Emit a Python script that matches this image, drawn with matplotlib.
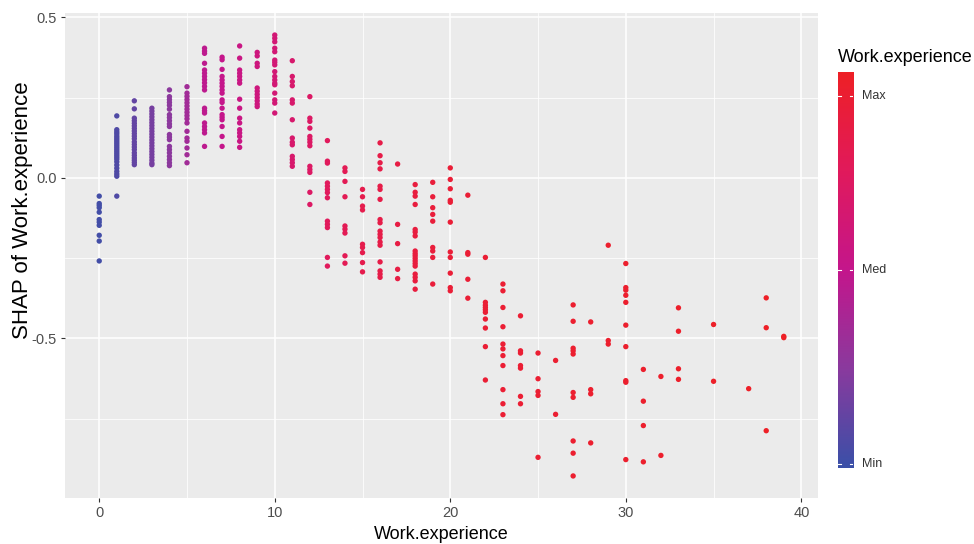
import numpy as np
import matplotlib
matplotlib.use("Agg")
import matplotlib.pyplot as plt
from matplotlib.colors import LinearSegmentedColormap

plt.rcParams['font.family'] = ['Liberation Sans', 'DejaVu Sans']

# ---- data: SHAP values per work-experience level ----
exp_levels = [0, 1, 2, 3, 4, 5, 6, 7, 8, 9, 10, 11, 12, 13, 14, 15, 16, 17, 18, 19,
              20, 21, 22, 23, 24, 25, 26, 27, 28, 29, 30, 31, 32, 33, 35, 37, 38, 39]

shap_00 = [-0.057, -0.080, -0.086, -0.093, -0.107, -0.130, -0.138, -0.148, -0.179, -0.197, -0.259]
shap_01 = [0.193, 0.150, 0.143, 0.137, 0.130, 0.124, 0.118, 0.112, 0.106, 0.100, 0.094, 0.088,
           0.082, 0.076, 0.070, 0.064, 0.058, 0.050, 0.040, 0.030, 0.020, 0.012, 0.005, -0.057]
shap_02 = [0.240, 0.215, 0.186, 0.178, 0.170, 0.162, 0.154, 0.146, 0.138, 0.130, 0.122, 0.112,
           0.104, 0.096, 0.088, 0.078, 0.070, 0.062, 0.055, 0.048, 0.041]
shap_03 = [0.217, 0.208, 0.199, 0.190, 0.181, 0.172, 0.163, 0.154, 0.145, 0.136, 0.127, 0.118,
           0.109, 0.100, 0.091, 0.082, 0.073, 0.064, 0.055, 0.046, 0.041]
shap_04 = [0.274, 0.253, 0.244, 0.235, 0.226, 0.214, 0.197, 0.188, 0.178, 0.168, 0.160, 0.135,
           0.127, 0.119, 0.098, 0.088, 0.078, 0.067, 0.057, 0.047, 0.038]
shap_05 = [0.284, 0.264, 0.254, 0.244, 0.234, 0.224, 0.214, 0.204, 0.194, 0.184, 0.171, 0.145,
           0.124, 0.114, 0.093, 0.072, 0.047]
shap_06 = [0.404, 0.395, 0.388, 0.357, 0.336, 0.326, 0.316, 0.306, 0.296, 0.285, 0.274, 0.217,
           0.209, 0.202, 0.171, 0.160, 0.150, 0.140, 0.098]
shap_07 = [0.376, 0.368, 0.338, 0.316, 0.305, 0.295, 0.285, 0.274, 0.264, 0.243, 0.235, 0.217,
           0.197, 0.189, 0.181, 0.160, 0.129, 0.098]
shap_08 = [0.411, 0.373, 0.336, 0.326, 0.316, 0.305, 0.295, 0.245, 0.217, 0.186, 0.171, 0.150,
           0.140, 0.129, 0.114, 0.095]
shap_09 = [0.391, 0.380, 0.357, 0.347, 0.280, 0.270, 0.260, 0.250, 0.240, 0.230, 0.222]
shap_10 = [0.445, 0.435, 0.424, 0.404, 0.393, 0.367, 0.360, 0.352, 0.331, 0.316, 0.305, 0.295,
           0.290, 0.264, 0.243, 0.233, 0.202]
shap_11 = [0.365, 0.316, 0.300, 0.287, 0.243, 0.233, 0.181, 0.124, 0.111, 0.103, 0.067, 0.057,
           0.047, 0.036]
shap_12 = [0.253, 0.186, 0.176, 0.155, 0.129, 0.120, 0.111, 0.100, 0.036, 0.026, 0.017, -0.045, -0.083]
shap_13 = [0.116, 0.052, 0.046, -0.016, -0.026, -0.036, -0.046, -0.062, -0.135, -0.145, -0.155,
           -0.248, -0.275]
shap_14 = [0.031, 0.020, -0.011, -0.059, -0.150, -0.160, -0.172, -0.243, -0.266]
shap_15 = [-0.036, -0.059, -0.088, -0.100, -0.207, -0.217, -0.233, -0.264, -0.293]
shap_16 = [0.109, 0.069, 0.047, 0.028, -0.026, -0.036, -0.067, -0.130, -0.140, -0.166, -0.176,
           -0.186, -0.200, -0.210, -0.262, -0.290, -0.300, -0.310]
shap_17 = [0.043, -0.145, -0.205, -0.285, -0.314]
shap_18 = [-0.021, -0.045, -0.057, -0.083, -0.161, -0.169, -0.181, -0.228, -0.236, -0.243,
           -0.251, -0.259, -0.267, -0.275, -0.300, -0.310, -0.321, -0.347]
shap_19 = [-0.014, -0.059, -0.093, -0.114, -0.135, -0.217, -0.228, -0.248, -0.331]
shap_20 = [0.031, -0.005, -0.034, -0.070, -0.076, -0.138, -0.231, -0.248, -0.297, -0.342, -0.352]
shap_21 = [-0.054, -0.233, -0.238, -0.316, -0.375]
shap_22 = [-0.248, -0.388, -0.397, -0.404, -0.411, -0.419, -0.440, -0.468, -0.526, -0.630]
shap_23 = [-0.331, -0.352, -0.404, -0.464, -0.518, -0.533, -0.554, -0.585, -0.660, -0.704, -0.738]
shap_24 = [-0.430, -0.539, -0.546, -0.585, -0.593, -0.681, -0.704]
shap_25 = [-0.546, -0.626, -0.666, -0.678, -0.871]
shap_26 = [-0.569, -0.737]
shap_27 = [-0.396, -0.447, -0.531, -0.539, -0.549, -0.669, -0.684, -0.820, -0.858, -0.929]
shap_28 = [-0.449, -0.660, -0.673, -0.826]
shap_29 = [-0.210, -0.507, -0.518]
shap_30 = [-0.267, -0.342, -0.350, -0.366, -0.388, -0.459, -0.526, -0.632, -0.637, -0.878]
shap_31 = [-0.597, -0.696, -0.772, -0.885]
shap_32 = [-0.619, -0.865]
shap_33 = [-0.405, -0.478, -0.595, -0.628]
shap_35 = [-0.457, -0.634]
shap_37 = [-0.657]
shap_38 = [-0.374, -0.467, -0.788]
shap_39 = [-0.494, -0.498]

shap_groups = [shap_00, shap_01, shap_02, shap_03, shap_04, shap_05, shap_06, shap_07, shap_08,
               shap_09, shap_10, shap_11, shap_12, shap_13, shap_14, shap_15, shap_16, shap_17,
               shap_18, shap_19, shap_20, shap_21, shap_22, shap_23, shap_24, shap_25, shap_26,
               shap_27, shap_28, shap_29, shap_30, shap_31, shap_32, shap_33, shap_35, shap_37,
               shap_38, shap_39]

legend_labels = ["Min", "Med", "Max"]
x_ticks = [0, 10, 20, 30, 40]
y_ticks = [-0.5, 0.0, 0.5]

# ---- assemble ----
xs = np.concatenate([[lvl] * len(g) for lvl, g in zip(exp_levels, shap_groups)]).astype(float)
ys = np.concatenate(shap_groups)

# colour scale (blue -> magenta -> red)
cmap = LinearSegmentedColormap.from_list(
    "wexp", [(0.0, "#3A50A8"), (0.25, "#8A3A9E"), (0.5, "#C4168C"),
             (0.75, "#E11A5C"), (1.0, "#EE2026")])
# position of each experience value on the colour bar
col_anchor_x = [0, 1, 2, 3, 4, 5, 6, 8, 10, 12, 15, 20, 39]
col_anchor_f = [0.03, 0.07, 0.13, 0.19, 0.26, 0.35, 0.47, 0.54, 0.62, 0.71, 0.82, 0.92, 1.0]
colors = cmap(np.interp(xs, col_anchor_x, col_anchor_f))

W, H = 974, 544
fig = plt.figure(figsize=(W / 100, H / 100), dpi=100)
ax = fig.add_axes([65 / W, (H - 498) / H, (818 - 65) / W, (498 - 13) / H])
ax.set_facecolor("#EBEBEB")

ax.scatter(xs, ys, s=15, c=colors, edgecolors="none", zorder=3)
ax.margins(x=0.05, y=0.05)

ax.set_xticks(x_ticks)
ax.set_xticks([5, 15, 25, 35], minor=True)
ax.set_yticks(y_ticks)
ax.set_yticklabels(["-0.5", "0.0", "0.5"])
ax.set_yticks([-0.75, -0.25, 0.25], minor=True)
ax.grid(which="major", color="white", linewidth=1.1, zorder=0)
ax.grid(which="minor", color="white", linewidth=0.55, zorder=0)
ax.set_axisbelow(True)
for sp in ax.spines.values():
    sp.set_visible(False)
ax.tick_params(which="major", length=3, width=0.8, color="#333333",
               labelsize=10.5, labelcolor="#4D4D4D", pad=3)
ax.tick_params(which="minor", length=0)

ax.set_xlabel("Work.experience", fontsize=13, color="black", labelpad=4)
fig.text(23 / W, (H - 210) / H, "SHAP of Work.experience", fontsize=16, color="black",
         rotation=90, ha="center", va="center")

# colour bar legend
cax = fig.add_axes([838 / W, (H - 468) / H, 15 / W, (468 - 72) / H])
grad = np.linspace(0, 1, 256).reshape(-1, 1)
cax.imshow(grad, aspect="auto", cmap=cmap, origin="lower", extent=[0, 1, 0, 1])
cax.set_xlim(0, 1)
cax.set_ylim(0, 1)
cax.axis("off")
label_pos = [0.01, 0.5, 0.94]
for lab, p in zip(legend_labels, label_pos):
    cax.plot([0, 0.2], [p, p], color="white", lw=0.8)
    cax.plot([0.8, 1.0], [p, p], color="white", lw=0.8)
    cax.text(1.6, p, lab, fontsize=9, color="#333333", va="center", ha="left",
             transform=cax.transData, clip_on=False)

fig.text(838 / W, (H - 57) / H, "Work.experience", fontsize=13, color="black",
         ha="left", va="center")

fig.savefig("out.png", dpi=100)
